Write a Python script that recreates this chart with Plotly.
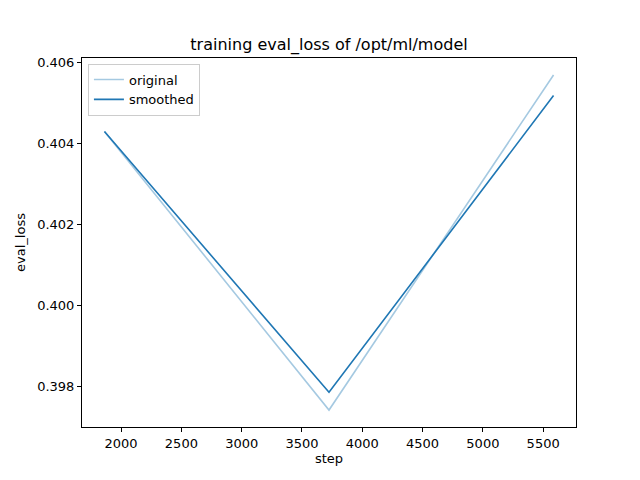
import plotly.graph_objects as go

# data
steps = [1862, 3724, 5586]
eval_loss_original = [0.40430, 0.39741, 0.40570]
eval_loss_smoothed = [0.40430, 0.39785, 0.40519]

x_ticks = [2000, 2500, 3000, 3500, 4000, 4500, 5000, 5500]
y_ticks = [0.398, 0.400, 0.402, 0.404, 0.406]

blue = "#1f77b4"
font = "DejaVu Sans"

fig = go.Figure()
fig.add_trace(go.Scatter(x=steps, y=eval_loss_original, mode="lines", name="original",
                         line=dict(color="rgba(31,119,180,0.4)", width=1.6)))
fig.add_trace(go.Scatter(x=steps, y=eval_loss_smoothed, mode="lines", name="smoothed",
                         line=dict(color=blue, width=1.6)))

axis_common = dict(showline=True, linecolor="black", linewidth=1, mirror=True,
                   ticks="outside", ticklen=4, tickcolor="black", showgrid=False,
                   zeroline=False, tickfont=dict(size=13, color="black"))

# the page puts the figure 8px in from the corner, so it is drawn 8px smaller
span = steps[-1] - steps[0]
fig.update_layout(
    width=632, height=472,
    margin=dict(l=72, r=64, t=50, b=53),
    paper_bgcolor="white", plot_bgcolor="white",
    font=dict(family=font, size=13, color="black"),
    title=dict(text="training eval_loss of /opt/ml/model", x=0.5, xref="paper",
               y=1 - 36 / 472, yanchor="middle", font=dict(size=16)),
    xaxis=dict(range=[steps[0] - 0.05 * span, steps[-1] + 0.05 * span],
               tickvals=x_ticks, ticktext=[str(v) for v in x_ticks],
               title=dict(text="step", standoff=2, font=dict(size=13)), **axis_common),
    yaxis=dict(range=[0.39699, 0.40612], tickvals=y_ticks,
               ticktext=["%.3f" % v for v in y_ticks],
               title=dict(text="eval_loss", standoff=8, font=dict(size=13)), **axis_common),
    legend=dict(x=0.012, y=0.985, xanchor="left", yanchor="top",
                bgcolor="white", bordercolor="#cccccc", borderwidth=1,
                font=dict(size=13), tracegroupgap=0),
    showlegend=True,
)

fig.write_html("out.html")
